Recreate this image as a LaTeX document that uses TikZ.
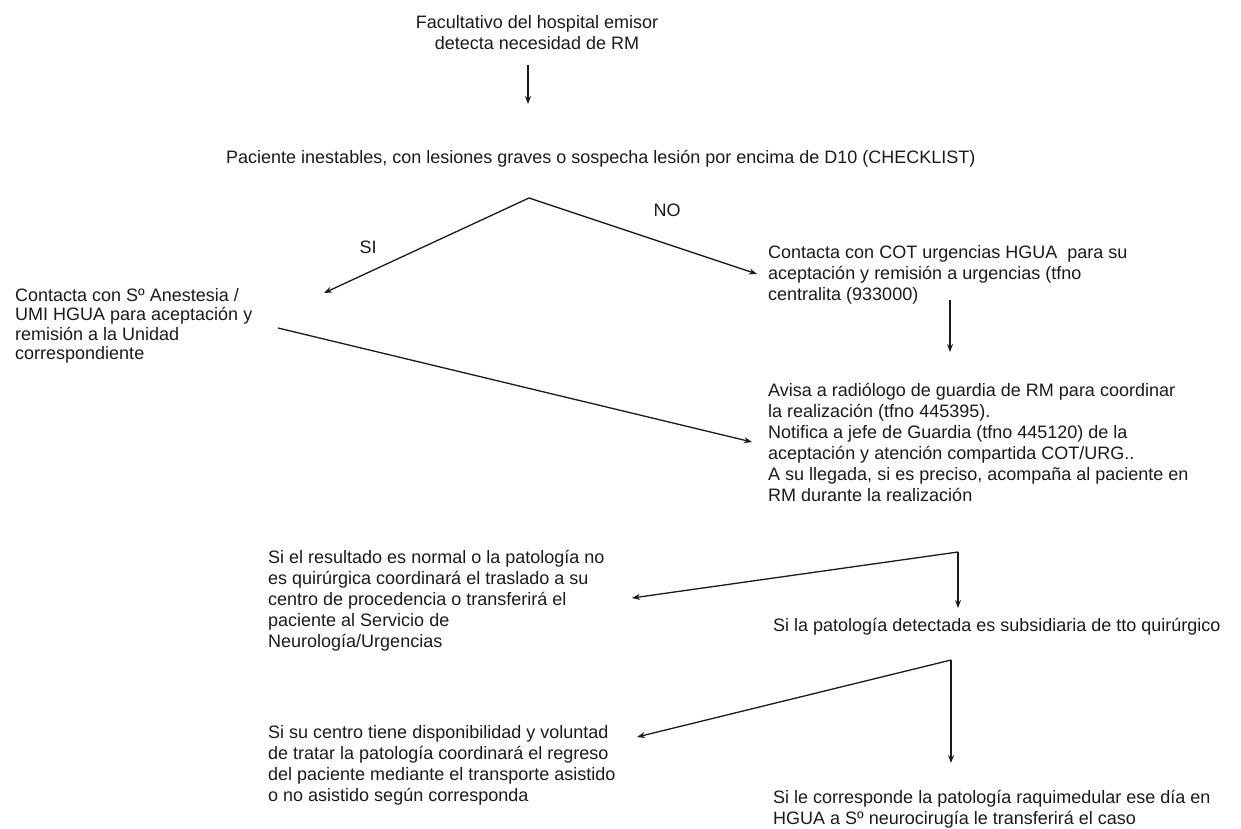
\documentclass[tikz,border=0pt]{standalone}
\usepackage{fontspec}
\setmainfont{Liberation Sans}
\usetikzlibrary{arrows.meta}
\definecolor{ink}{HTML}{1A1A1A}
\tikzset{
  txt/.style={inner sep=0pt, anchor=north west, align=left, text=ink,
              font=\fontsize{18}{21}\selectfont},
  ctxt/.style={txt, anchor=north, align=center},
  lbl/.style={inner sep=0pt, anchor=base, text=ink, font=\fontsize{18}{21}\selectfont},
  fl/.style={-{Stealth[length=8pt, width=6pt]}, line width=1.3pt, draw=ink},
}

\begin{document}
\begin{tikzpicture}[x=1pt, y=-1pt]
  \useasboundingbox (0,0) rectangle (1241,829);

  \node[ctxt] (fac) at (537,15.5) {Facultativo del hospital emisor\\detecta necesidad de RM};
  \node[lbl, anchor=base west] (pac) at (226,163.5)
    {Paciente inestables, con lesiones graves o sospecha lesión por encima de D10 (CHECKLIST)};
  \node[lbl] (si) at (368,253.5) {SI};
  \node[lbl] (no) at (667,216.5) {NO};

  \node[txt, font=\fontsize{18}{19.5}\selectfont] (anes) at (15,288)
    {Contacta con Sº Anestesia /\\UMI HGUA para aceptación y\\remisión a la Unidad\\correspondiente};
  \node[txt] (cot) at (768,245)
    {Contacta con COT urgencias HGUA~~para su\\aceptación y remisión a urgencias (tfno\\centralita (933000)};
  \node[txt] (avisa) at (768,383)
    {Avisa a radiólogo de guardia de RM para coordinar\\la realización (tfno 445395).\\
     Notifica a jefe de Guardia (tfno 445120) de la\\aceptación y atención compartida COT/URG..\\
     A su llegada, si es preciso, acompaña al paciente en\\RM durante la realización};

  \node[txt] (normal) at (268,550)
    {Si el resultado es normal o la patología no\\es quirúrgica coordinará el traslado a su\\
     centro de procedencia o transferirá el\\paciente al Servicio de\\Neurología/Urgencias};
  \node[lbl, anchor=base west] (quir) at (773,631.5)
    {Si la patología detectada es subsidiaria de tto quirúrgico};
  \node[txt] (centro) at (268,725)
    {Si su centro tiene disponibilidad y voluntad\\de tratar la patología coordinará el regreso\\
     del paciente mediante el transporte asistido\\o no asistido según corresponda};
  \node[txt] (neuro) at (773,790)
    {Si le corresponde la patología raquimedular ese día en\\HGUA a Sº neurocirugía le transferirá el caso};

  \coordinate (facout) at (528,65);
  \coordinate (pacin) at (528,104);
  \coordinate (peak) at (529,198);
  \coordinate (sitip) at (324,293);
  \coordinate (notip) at (757,274);
  \coordinate (anesout) at (278,328);
  \coordinate (avisain) at (752,442);
  \coordinate (cotout) at (950,300);
  \coordinate (avisatop) at (950,352);
  \coordinate (forka) at (958,552);
  \coordinate (normalin) at (632,598);
  \coordinate (quirin) at (958,608);
  \coordinate (forkb) at (951,660);
  \coordinate (centroin) at (637,737);
  \coordinate (neuroin) at (951,763);

  \draw[fl] (facout) -- (pacin);
  \draw[fl] (peak) -- (sitip);
  \draw[fl] (peak) -- (notip);
  \draw[fl] (anesout) -- (avisain);
  \draw[fl] (cotout) -- (avisatop);
  \draw[fl] (forka) -- (normalin);
  \draw[fl] (forka) -- (quirin);
  \draw[fl] (forkb) -- (centroin);
  \draw[fl] (forkb) -- (neuroin);
\end{tikzpicture}
\end{document}
